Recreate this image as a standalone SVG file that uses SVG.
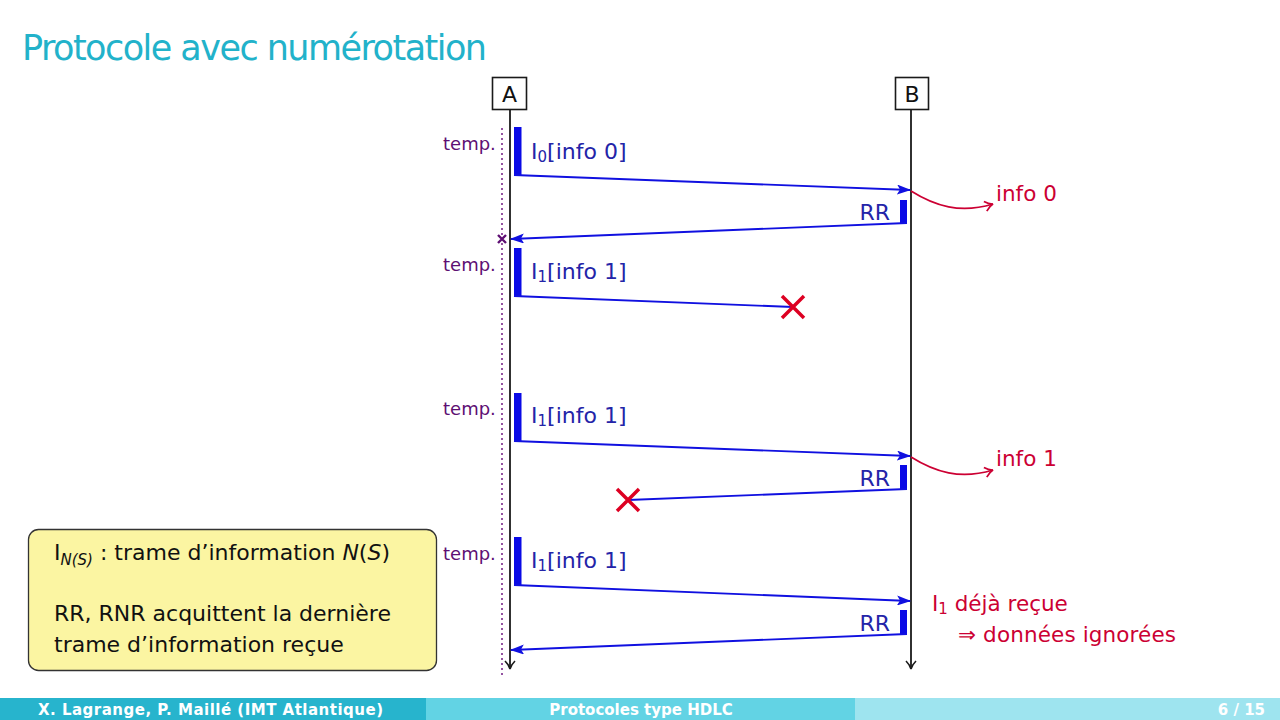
<svg xmlns="http://www.w3.org/2000/svg" width="1280" height="720" viewBox="0 0 1280 720">
<defs>
<style>
.t{font-family:"DejaVu Sans","Liberation Sans",sans-serif}
.msg{fill:none;stroke:#1010e0;stroke-width:1.9}
.bar{fill:#0a0ae6}
.lbl{font-family:"DejaVu Sans","Liberation Sans",sans-serif;font-size:22px;fill:#2424a8}
.tmp{font-family:"DejaVu Sans","Liberation Sans",sans-serif;font-size:18px;fill:#5e0f73}
.red{font-family:"DejaVu Sans","Liberation Sans",sans-serif;font-size:21.5px;fill:#cc0033}
.cross{stroke:#dd0022;stroke-width:3.5;fill:none}
.life{stroke:#1a1a1a;stroke-width:1.8;fill:none}
.box{font-family:"DejaVu Sans","Liberation Sans",sans-serif;font-size:22px;fill:#111}
.foot{font-family:"DejaVu Sans","Liberation Sans",sans-serif;font-size:15px;font-weight:bold;fill:#fff}
</style>
<marker id="ah" markerWidth="14" markerHeight="10" refX="13" refY="5" orient="auto" markerUnits="userSpaceOnUse">
<path d="M0,0 L14,5 L0,10 L3,5 Z" fill="#1010e0"/>
</marker>
<marker id="open" markerWidth="12" markerHeight="12" refX="10" refY="6" orient="auto" markerUnits="userSpaceOnUse">
<path d="M2,1 Q6,5 10,6 Q6,7 2,11" fill="none" stroke="#1a1a1a" stroke-width="1.6"/>
</marker>
<marker id="redopen" markerWidth="12" markerHeight="12" refX="10" refY="6" orient="auto" markerUnits="userSpaceOnUse">
<path d="M2,1 Q6,5 10,6 Q6,7 2,11" fill="none" stroke="#cc0033" stroke-width="1.7"/>
</marker>
</defs>
<rect width="1280" height="720" fill="#fff"/>
<text x="22" y="60" class="t" font-size="35" fill="#22b2ca" textLength="465">Protocole avec numérotation</text>

<g id="nodeA">
<rect x="492.5" y="77.5" width="34" height="32" fill="#fff" stroke="#1a1a1a" stroke-width="1.6"/>
<text x="509.5" y="102" class="box" text-anchor="middle">A</text>
<line x1="510" y1="110" x2="510" y2="669" class="life" marker-end="url(#open)"/>
<line x1="502" y1="128" x2="502" y2="676" stroke="#7a2a8a" stroke-width="1.6" stroke-dasharray="2,3"/>
</g>
<g id="nodeB">
<rect x="895.5" y="77.5" width="33" height="32" fill="#fff" stroke="#1a1a1a" stroke-width="1.6"/>
<text x="912" y="102" class="box" text-anchor="middle">B</text>
<line x1="911" y1="110" x2="911" y2="669" class="life" marker-end="url(#open)"/>
</g>

<g id="connectors">
<rect x="514" y="127" width="7.5" height="48" class="bar"/>
<path d="M514,175 L910,190" class="msg" marker-end="url(#ah)"/>
<rect x="900" y="200" width="7" height="23" class="bar"/>
<path d="M907,223 L511,239" class="msg" marker-end="url(#ah)"/>
<path d="M911,191 C935,206 960,214 993,204" fill="none" stroke="#cc0033" stroke-width="1.7" marker-end="url(#redopen)"/>
<path d="M498,235 L506,243 M506,235 L498,243" stroke="#5e0f73" stroke-width="2.4"/>
<rect x="514" y="248" width="7.5" height="48" class="bar"/>
<path d="M514,296 L793,307" class="msg"/>
<path d="M782,296 L804,318 M804,296 L782,318" class="cross"/>
<rect x="514" y="393" width="7.5" height="48" class="bar"/>
<path d="M514,441 L910,456" class="msg" marker-end="url(#ah)"/>
<path d="M911,457 C935,472 960,480 993,470" fill="none" stroke="#cc0033" stroke-width="1.7" marker-end="url(#redopen)"/>
<rect x="900" y="465" width="7" height="24" class="bar"/>
<path d="M907,489 L628,500" class="msg"/>
<path d="M617,489 L639,511 M639,489 L617,511" class="cross"/>
<rect x="514" y="537" width="7.5" height="48" class="bar"/>
<path d="M514,585 L910,601" class="msg" marker-end="url(#ah)"/>
<rect x="900" y="610" width="7" height="24" class="bar"/>
<path d="M907,634 L511,650" class="msg" marker-end="url(#ah)"/>
</g>

<g id="labels">
<text x="443" y="150" class="tmp">temp.</text>
<text x="443" y="271" class="tmp">temp.</text>
<text x="443" y="415" class="tmp">temp.</text>
<text x="443" y="560" class="tmp">temp.</text>
<text x="531" y="159" class="lbl">I<tspan font-size="15" dy="3">0</tspan><tspan dy="-3">[info 0]</tspan></text>
<text x="531" y="279" class="lbl">I<tspan font-size="15" dy="3">1</tspan><tspan dy="-3">[info 1]</tspan></text>
<text x="531" y="423" class="lbl">I<tspan font-size="15" dy="3">1</tspan><tspan dy="-3">[info 1]</tspan></text>
<text x="531" y="568" class="lbl">I<tspan font-size="15" dy="3">1</tspan><tspan dy="-3">[info 1]</tspan></text>
<text x="890" y="220" class="lbl" text-anchor="end">RR</text>
<text x="890" y="486" class="lbl" text-anchor="end">RR</text>
<text x="890" y="631" class="lbl" text-anchor="end">RR</text>
<text x="996" y="201" class="red">info 0</text>
<text x="996" y="466" class="red">info 1</text>
<text x="932" y="611" class="red">I<tspan font-size="15" dy="3">1</tspan><tspan dy="-3"> déjà reçue</tspan></text>
<text x="958" y="642" class="red" textLength="218">⇒ données ignorées</text>
</g>

<g id="note">
<rect x="28.5" y="529.5" width="408" height="141" rx="10" fill="#fbf5a2" stroke="#333" stroke-width="1.3"/>
<text x="54" y="560" class="box">I<tspan font-size="15" dy="5" font-style="italic">N(S)</tspan><tspan dy="-5"> : trame d’information </tspan><tspan font-style="italic">N</tspan>(<tspan font-style="italic">S</tspan>)</text>
<text x="54" y="621" class="box">RR, RNR acquittent la dernière</text>
<text x="54" y="652" class="box">trame d’information reçue</text>
</g>

<g id="footer">
<rect x="0" y="698" width="426" height="22" fill="#27b4cd"/>
<rect x="426" y="698" width="429" height="22" fill="#62d3e4"/>
<rect x="855" y="698" width="425" height="22" fill="#9ee4ef"/>
<text x="38" y="715" class="foot" textLength="345">X. Lagrange, P. Maillé  (IMT Atlantique)</text>
<text x="641" y="715" class="foot" text-anchor="middle">Protocoles type HDLC</text>
<text x="1265" y="715" class="foot" text-anchor="end">6 / 15</text>
</g>
</svg>
